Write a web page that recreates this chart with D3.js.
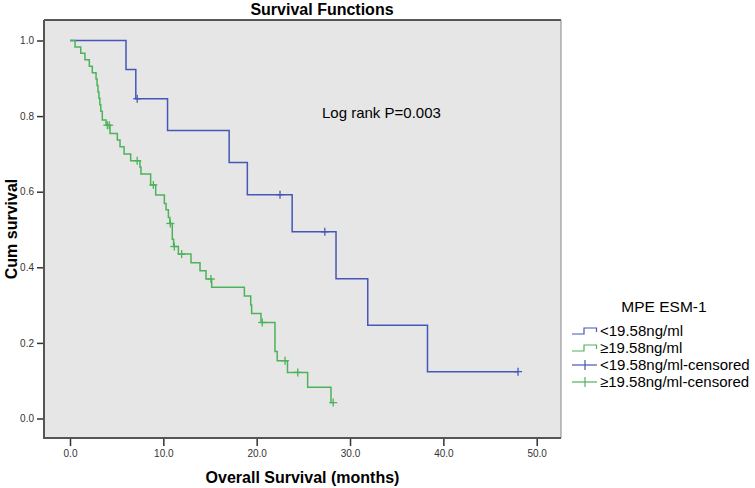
<!DOCTYPE html>
<html>
<head>
<meta charset="utf-8">
<script src="https://cdn.jsdelivr.net/npm/d3@7"></script>
<style>
  html, body { margin: 0; padding: 0; background: #ffffff; }
  svg { display: block; }
</style>
</head>
<body>
<svg id="chart" width="755" height="488"></svg>
<script>
// ---- data ----
const groupNames = ["<19.58ng/ml", "\u226519.58ng/ml"];
const censoredNames = ["<19.58ng/ml-censored", "\u226519.58ng/ml-censored"];
const legendTitle = "MPE ESM-1";
const xTicks = [0, 10, 20, 30, 40, 50];
const yTicks = [0, 0.2, 0.4, 0.6, 0.8, 1.0];

// <19.58ng/ml : step times and survival after each step
const lowTimes = [0, 6.0, 7.05, 10.45, 17.05, 19.0, 23.8, 28.5, 31.9, 38.3];
const lowSurv  = [1.0, 0.923, 0.846, 0.762, 0.677, 0.592, 0.494, 0.370, 0.247, 0.124];
const lowEnd = 48.0;
const lowCensTimes = [7.2, 22.5, 27.3, 48.0];

// >=19.58ng/ml
const highTimes = [0, 0.54, 1.15, 1.6, 2.07, 2.39, 2.79, 2.9, 3.0, 3.1, 3.2, 3.3, 3.46, 3.86,
  4.29, 5.07, 5.36, 5.79, 6.5, 7.5, 7.6, 8.64, 9.18, 10.11, 10.29, 10.54, 10.7, 10.96, 11.1,
  11.61, 12.96, 13.93, 14.57, 15.18, 18.68, 19.36, 19.46, 20.46, 21.96, 22.2, 23.3, 25.46, 27.96];
const highSurv = [1.0, 0.983, 0.966, 0.949, 0.932, 0.915, 0.898, 0.881, 0.864, 0.847, 0.830, 0.813, 0.790, 0.776,
  0.754, 0.737, 0.719, 0.700, 0.682, 0.665, 0.647, 0.618, 0.591, 0.569, 0.552, 0.532, 0.516, 0.474, 0.455,
  0.435, 0.412, 0.391, 0.369, 0.347, 0.324, 0.300, 0.278, 0.254, 0.177, 0.153, 0.122, 0.0825, 0.042];
const highEnd = 28.2;
const highCensTimes = [4.0, 4.2, 7.2, 8.93, 10.75, 11.18, 11.96, 15.1, 20.6, 23.04, 24.4, 28.2];

const colors = ["#4557b8", "#4db35a"];

// ---- layout ----
const svg = d3.select("#chart");
const plot = { left: 44, right: 561, top: 20, bottom: 438 };
const x = d3.scaleLinear().domain([0, 50]).range([70, 536.7]);
const y = d3.scaleLinear().domain([0, 1]).range([418.5, 40.5]);

svg.append("rect")
  .attr("x", plot.left).attr("y", plot.top)
  .attr("width", plot.right - plot.left).attr("height", plot.bottom - plot.top)
  .attr("fill", "#e6e6e6");

// frame
svg.append("line").attr("x1", plot.left).attr("x2", plot.right).attr("y1", plot.top).attr("y2", plot.top)
  .attr("stroke", "#222").attr("stroke-width", 1.5);
svg.append("line").attr("x1", plot.right).attr("x2", plot.right).attr("y1", plot.top).attr("y2", plot.bottom)
  .attr("stroke", "#888").attr("stroke-width", 1);

// axes
const yAxis = d3.axisLeft(y).tickValues(yTicks).tickFormat(d3.format(".1f")).tickSize(7).tickPadding(3);
const gy = svg.append("g").attr("transform", `translate(${plot.left},0)`).call(yAxis);
const xAxis = d3.axisBottom(x).tickValues(xTicks).tickFormat(d3.format(".1f")).tickSize(8).tickPadding(4);
const gx = svg.append("g").attr("transform", `translate(0,${plot.bottom})`).call(xAxis);
[gx, gy].forEach(g => {
  g.select(".domain").remove();
  g.selectAll(".tick line").attr("stroke", "#333").attr("stroke-width", 1.5);
  g.selectAll(".tick text").attr("fill", "#333").style("font-family", "Liberation Sans, Arial, sans-serif").style("font-size", "10px");
});
svg.append("line").attr("x1", plot.left).attr("x2", plot.left).attr("y1", plot.top).attr("y2", plot.bottom + 1)
  .attr("stroke", "#555").attr("stroke-width", 2);
svg.append("line").attr("x1", plot.left).attr("x2", plot.right).attr("y1", plot.bottom).attr("y2", plot.bottom)
  .attr("stroke", "#555").attr("stroke-width", 2);

// curves
function stepPoints(times, surv, end) {
  const pts = [];
  for (let i = 0; i < times.length; i++) {
    if (i > 0) pts.push([times[i], surv[i - 1]]);
    pts.push([times[i], surv[i]]);
  }
  pts.push([end, surv[surv.length - 1]]);
  return pts;
}
function survAt(times, surv, t) {
  let s = surv[0];
  for (let i = 0; i < times.length; i++) if (times[i] <= t) s = surv[i];
  return s;
}
const line = d3.line().x(d => x(d[0])).y(d => y(d[1]));
const series = [
  { times: lowTimes, surv: lowSurv, end: lowEnd, cens: lowCensTimes, color: colors[0] },
  { times: highTimes, surv: highSurv, end: highEnd, cens: highCensTimes, color: colors[1] }
];
series.forEach(s => {
  svg.append("path").attr("d", line(stepPoints(s.times, s.surv, s.end)))
    .attr("fill", "none").attr("stroke", s.color).attr("stroke-width", 1.5);
  const g = svg.append("g");
  s.cens.forEach(t => {
    const cx = x(t), cy = y(survAt(s.times, s.surv, t));
    g.append("line").attr("x1", cx).attr("x2", cx).attr("y1", cy - 4).attr("y2", cy + 4)
      .attr("stroke", s.color).attr("stroke-width", 1.3);
    g.append("line").attr("x1", cx - 4).attr("x2", cx + 4).attr("y1", cy).attr("y2", cy)
      .attr("stroke", s.color).attr("stroke-width", 1.3);
  });
});

// text
const font = "Liberation Sans, Arial, sans-serif";
svg.append("text").attr("x", 322).attr("y", 15).attr("text-anchor", "middle")
  .style("font-family", font).style("font-weight", "bold").style("font-size", "16px").text("Survival Functions");
svg.append("text").attr("x", 302.5).attr("y", 483).attr("text-anchor", "middle")
  .style("font-family", font).style("font-weight", "bold").style("font-size", "16px").text("Overall Survival (months)");
svg.append("text").attr("transform", "translate(17,229) rotate(-90)").attr("text-anchor", "middle")
  .style("font-family", font).style("font-weight", "bold").style("font-size", "16px").text("Cum survival");
svg.append("text").attr("x", 322).attr("y", 118).style("font-family", font).style("font-size", "15px")
  .text("Log rank P=0.003");

// legend
svg.append("text").attr("x", 664).attr("y", 312).attr("text-anchor", "middle")
  .style("font-family", font).style("font-size", "15.5px").text(legendTitle);
const rowY = [331, 348, 365, 382];
const labels = [groupNames[0], groupNames[1], censoredNames[0], censoredNames[1]];
labels.forEach((lab, i) => {
  const c = colors[i % 2];
  const ry = rowY[i];
  if (i < 2) {
    svg.append("path").attr("d", `M572,${ry + 3}H584V${ry - 3}H596.5V${ry + 1}`)
      .attr("fill", "none").attr("stroke", c).attr("stroke-width", 1.2);
  } else {
    svg.append("line").attr("x1", 572).attr("x2", 597).attr("y1", ry).attr("y2", ry).attr("stroke", c).attr("stroke-width", 1.2);
    svg.append("line").attr("x1", 585).attr("x2", 585).attr("y1", ry - 5).attr("y2", ry + 5).attr("stroke", c).attr("stroke-width", 1.2);
  }
  svg.append("text").attr("x", 600).attr("y", ry + 5).style("font-family", font).style("font-size", "15px").text(lab);
});
</script>
</body>
</html>
